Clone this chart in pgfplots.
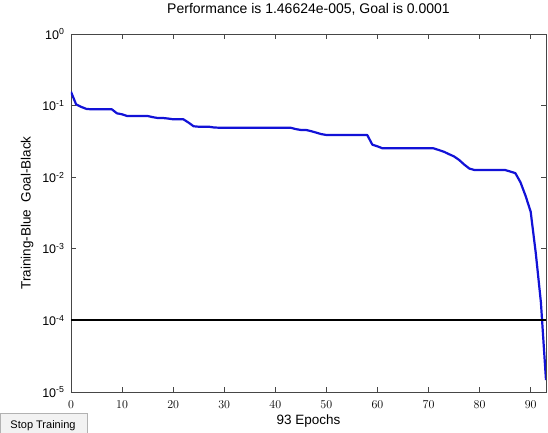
\documentclass[border=0pt]{standalone}
\usepackage{fontspec}
\setmainfont{Liberation Sans}
\usepackage{pgfplots}
\usepackage{pgfplotstable}
\pgfplotsset{compat=1.18}
\definecolor{trainblue}{RGB}{18,18,215}
\definecolor{axgray}{RGB}{70,70,70}

\pgfplotstableread{
epoch perf
0 0.156
1 0.104
2 0.096
3 0.090
4 0.0887
5 0.0887
6 0.0887
7 0.0887
8 0.0887
9 0.078
10 0.0756
11 0.0716
12 0.0716
13 0.0716
14 0.0716
15 0.0716
16 0.069
17 0.0671
18 0.0671
19 0.066
20 0.0644
21 0.0644
22 0.0644
23 0.058
24 0.0515
25 0.0507
26 0.0507
27 0.0507
28 0.0495
29 0.0491
30 0.0491
31 0.0491
32 0.0491
33 0.0491
34 0.0491
35 0.0491
36 0.0491
37 0.0491
38 0.0491
39 0.0491
40 0.0491
41 0.0491
42 0.0491
43 0.0491
44 0.0470
45 0.0457
46 0.0457
47 0.0440
48 0.0420
49 0.0400
50 0.0389
51 0.0389
52 0.0389
53 0.0389
54 0.0389
55 0.0389
56 0.0389
57 0.0389
58 0.0389
59 0.0285
60 0.0270
61 0.0253
62 0.0253
63 0.0253
64 0.0253
65 0.0253
66 0.0253
67 0.0253
68 0.0253
69 0.0253
70 0.0253
71 0.0253
72 0.0240
73 0.0227
74 0.0210
75 0.0195
76 0.0174
77 0.0150
78 0.0132
79 0.0126
80 0.0126
81 0.0126
82 0.0126
83 0.0126
84 0.0126
85 0.0126
86 0.0120
87 0.0114
88 0.0085
89 0.0055
90 0.0033
91 0.00087
92 0.00018
93 0.0000146624
}\perfdata

\pgfplotstableread{
epoch goal
0 0.0001
93 0.0001
}\goaldata

\begin{document}
\begin{tikzpicture}
\begin{axis}[
  at={(0,0)}, anchor=south west,
  scale only axis, width=475pt, height=358pt,
  ymode=log, log basis y=10,
  xmin=0, xmax=93, ymin=1e-5, ymax=1,
  xtick={0,10,...,90},
  ytick={1e-5,1e-4,1e-3,1e-2,1e-1,1},
  yticklabels={10\textsuperscript{-5},10\textsuperscript{-4},10\textsuperscript{-3},10\textsuperscript{-2},10\textsuperscript{-1},10\textsuperscript{0}},
  tick align=inside,
  xtick pos=both, ytick pos=both,
  major tick length=5pt, minor tick length=3pt,
  axis line style={axgray, line width=0.9pt},
  every tick/.style={axgray, line width=0.7pt},
  tick label style={font=\fontsize{12.5}{14}\selectfont},
  xticklabel style={yshift=-5pt},
  yticklabel style={xshift=-3pt},
  title={Performance is 1.46624e-005, Goal is 0.0001},
  title style={at={(axis description cs:0.5,1)}, anchor=center, yshift=19pt, font=\fontsize{14}{16}\selectfont},
  xlabel={93 Epochs},
  xlabel style={at={(axis description cs:0.5,0)}, anchor=center, yshift=-29pt, font=\fontsize{13.5}{15}\selectfont},
  ylabel={Training-Blue\ \ Goal-Black},
  ylabel style={at={(axis description cs:-0.0926,0.5)}, anchor=center, font=\fontsize{13.5}{15}\selectfont},
]
\addplot[trainblue, line width=2.2pt, line join=round] table[x=epoch, y=perf] {\perfdata};
\addplot[black, line width=2pt] table[x=epoch, y=goal] {\goaldata};
\end{axis}
\draw[gray!60, fill=gray!10] (-71pt,-41pt) -- (-71pt,-21pt) -- (16pt,-21pt) -- (16pt,-41pt);
\node[font=\fontsize{11}{13}\selectfont, inner sep=0pt] at (-28pt,-34pt) {Stop Training};
\pgfresetboundingbox
\path (-71pt,-40pt) rectangle (477pt,392pt);
\end{tikzpicture}
\end{document}
